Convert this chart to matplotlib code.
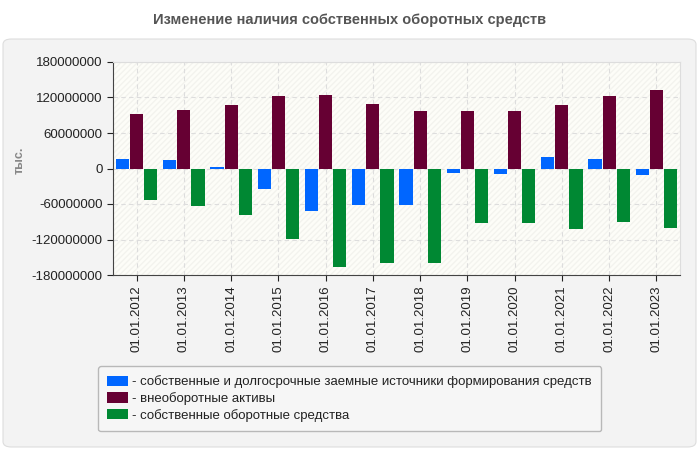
import numpy as np
import matplotlib.pyplot as plt
from matplotlib.patches import FancyBboxPatch, Rectangle

plt.rcParams['font.family'] = ['Liberation Sans', 'DejaVu Sans']

dates = ['01.01.2012', '01.01.2013', '01.01.2014', '01.01.2015', '01.01.2016', '01.01.2017',
         '01.01.2018', '01.01.2019', '01.01.2020', '01.01.2021', '01.01.2022', '01.01.2023']
sources = [16e6, 14e6, 2.3e6, -35e6, -71e6, -61e6, -61e6, -8e6, -10e6, 19.5e6, 16e6, -11.5e6]
noncurrent = [91.5e6, 98.5e6, 107e6, 122e6, 124e6, 108.5e6, 96.5e6, 96.5e6, 96.5e6, 107e6, 122e6, 132.5e6]
working = [-54e6, -63e6, -78e6, -119e6, -166e6, -159e6, -159e6, -92e6, -92e6, -102e6, -90e6, -100.5e6]

names = ['- собственные и долгосрочные заемные источники формирования средств',
         '- внеоборотные активы',
         '- собственные оборотные средства']
colors = ['#0066ff', '#660033', '#008833']

fig = plt.figure(figsize=(7, 4.5), dpi=100)
fig.patch.set_facecolor('white')

# grey panel behind the chart
panel = FancyBboxPatch((3/700, 3/450), 693/700, 408/450, boxstyle='round,pad=0,rounding_size=0.012',
                       transform=fig.transFigure, facecolor='#f3f3f3', edgecolor='#dddddd', lw=0.8,
                       zorder=-10)
fig.patches.append(panel)

fig.text(0.5, 1 - 20/450, 'Изменение наличия собственных оборотных средств', ha='center', va='center',
         fontsize=10.5, fontweight='bold', color='#555555')
fig.text(20/700, 1 - 160/450, 'тыс.', rotation=90, ha='center', va='center',
         color='#888888', fontweight='bold', fontsize=9)

ax = fig.add_axes([113/700, 1 - 275/450, 567/700, 213/450])
ax.set_facecolor('#fdfdf8')
ax.add_patch(Rectangle((0, 0), 1, 1, transform=ax.transAxes, facecolor='none',
                       edgecolor='#f3f3ee', hatch='//////', lw=0, zorder=0))

x = np.arange(len(dates))
w = 0.28
step = 0.298
for i, (vals, c) in enumerate(zip([sources, noncurrent, working], colors)):
    ax.bar(x + (i - 1) * step, vals, width=w, color=c, label=names[i], zorder=3)

ax.set_xlim(-0.5, len(dates) - 0.5)
ax.set_ylim(-180e6, 180e6)
ax.set_yticks(np.arange(-180e6, 180e6 + 1, 60e6))
ax.set_yticklabels([f'{int(v)}' for v in np.arange(-180e6, 180e6 + 1, 60e6)])
ax.set_xticks(x)
ax.set_xticklabels(dates, rotation=90)
ax.tick_params(labelsize=9.5, colors='#222222', length=4, width=0.8)
ax.grid(True, color='#dddddd', linestyle=(0, (4, 3)), lw=0.8, zorder=1)
for s in ['top', 'right']:
    ax.spines[s].set_color('#dddddd')
for s in ['left', 'bottom']:
    ax.spines[s].set_color('#444444')

leg = fig.legend(loc='upper left', bbox_to_anchor=(98/700, 1 - 366/450), fontsize=9.5,
                 frameon=True, fancybox=True, handlelength=1.6, handleheight=0.8,
                 handletextpad=0.3, labelspacing=0.3, borderpad=0.7, borderaxespad=0)
leg.get_frame().set_facecolor('#f8f8f8')
leg.get_frame().set_edgecolor('#aaaaaa')
for t in leg.get_texts():
    t.set_color('#222222')

fig.savefig('out.png', dpi=100)
